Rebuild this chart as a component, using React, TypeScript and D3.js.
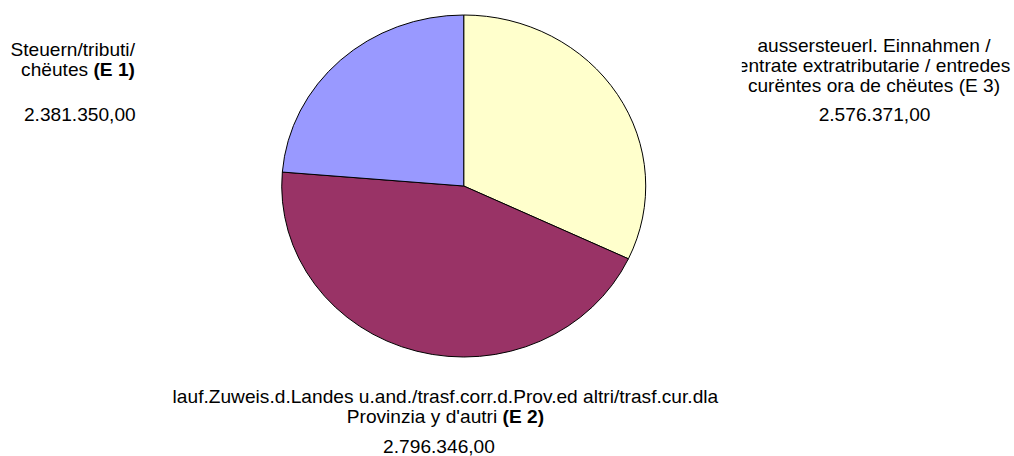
import React from "react";
import * as d3 from "d3";

// slices clockwise from 12 o'clock
const categories = ["E 3", "E 2", "E 1"];
// shares (percent of the full circle)
const sliceShares = [32.0, 44.3, 23.7];
const sliceColors = ["#FFFFCC", "#993366", "#9999FF"];
const amountLabels = ["2.576.371,00", "2.796.346,00", "2.381.350,00"];
const labelLines = [
  ["aussersteuerl. Einnahmen /", "entrate extratributarie / entredes", "curëntes ora de chëutes (E 3)"],
  ["lauf.Zuweis.d.Landes u.and./trasf.corr.d.Prov.ed altri/trasf.cur.dla", "Provinzia y d'autri "],
  ["Steuern/tributi/", "chëutes "],
];
const boldTags = ["", "(E 2)", "(E 1)"];

const W = 1014;
const H = 456;
// the picture is slightly stretched horizontally
const sx = 182 / 171;
const VW = W / sx;

type LabelPos = {
  x: number;
  anchor: "start" | "middle" | "end";
  lines: number[];
  valueX: number;
  valueY: number;
  clipLeft?: number;
};

const labelPos: LabelPos[] = [
  { x: 821.2, anchor: "middle", lines: [52, 72, 92], valueX: 821.7, valueY: 121, clipLeft: 697 },
  { x: 418.5, anchor: "middle", lines: [403, 423], valueX: 412.5, valueY: 453 },
  { x: 126.8, anchor: "end", lines: [56.5, 76.5], valueX: 75, valueY: 121 },
];

export default function App() {
  const cx = 435.7;
  const cy = 186;
  const r = 171;

  const pie = d3.pie<number>().sort(null).value((d) => d);
  const arcs = pie(sliceShares);
  const arc = d3.arc<d3.PieArcDatum<number>>().innerRadius(0).outerRadius(r);

  return (
    <svg
      width={W}
      height={H}
      viewBox={`0 0 ${VW} ${H}`}
      preserveAspectRatio="none"
      style={{ position: "absolute", left: 0, top: 0, background: "#fff" }}
      fontFamily="'Liberation Sans', Arial, sans-serif"
      fontSize={18}
    >
      <defs>
        <clipPath id="clipE3">
          <rect x={697} y={0} width={VW - 697} height={H} />
        </clipPath>
      </defs>
      <g transform={`translate(${cx},${cy})`}>
        {arcs.map((a, i) => (
          <path
            key={categories[i]}
            d={arc(a)!}
            fill={sliceColors[i]}
            stroke="#000"
            strokeWidth={1}
            vectorEffect="non-scaling-stroke"
          />
        ))}
      </g>
      {categories.map((c, i) => {
        const p = labelPos[i];
        const lines = labelLines[i];
        return (
          <g key={c} clipPath={p.clipLeft ? "url(#clipE3)" : undefined} fill="#000">
            {lines.map((t, j) => (
              <text key={j} x={p.x} y={p.lines[j]} textAnchor={p.anchor} xmlSpace="preserve">
                {t}
                {j === lines.length - 1 && boldTags[i] ? (
                  <tspan fontWeight="bold">{boldTags[i]}</tspan>
                ) : null}
              </text>
            ))}
            <text x={p.valueX} y={p.valueY} textAnchor="middle">
              {amountLabels[i]}
            </text>
          </g>
        );
      })}
    </svg>
  );
}
